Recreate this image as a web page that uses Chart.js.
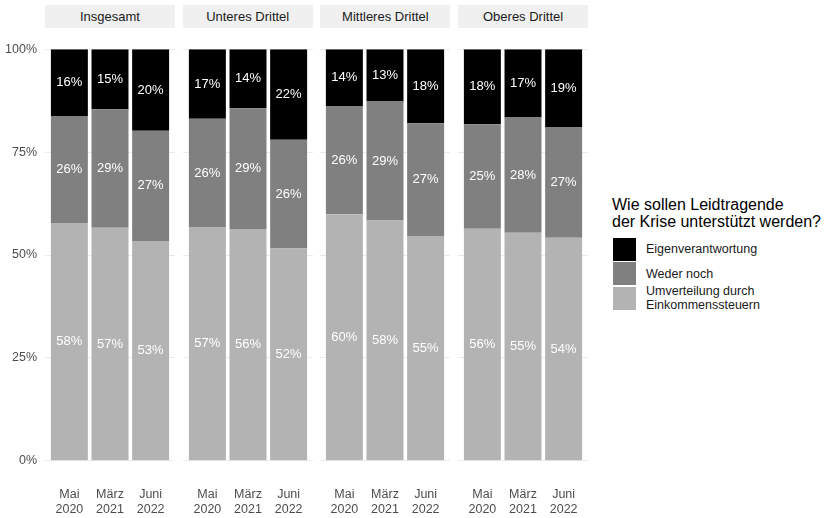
<!DOCTYPE html>
<html>
<head>
<meta charset="utf-8">
<script src="https://cdn.jsdelivr.net/npm/chart.js@4.4.1/dist/chart.umd.min.js"></script>
<style>
  body { margin: 0; width: 827px; height: 518px; background: #fff; position: relative; overflow: hidden;
         font-family: "Liberation Sans", Arial, sans-serif; }
  .strip { position: absolute; top: 5px; height: 23px; width: 130px; background: #f0f0f0; color: #1a1a1a;
           font-size: 13px; line-height: 23px; text-align: center; }
  canvas { position: absolute; top: 36px; }
  .ltitle { position: absolute; left: 612px; top: 196px; font-size: 16px; line-height: 17px; color: #000; }
  .lrow { position: absolute; left: 613px; height: 23px; display: flex; align-items: center; }
  .lkey { width: 23px; height: 23px; }
  .ltext { margin-left: 10px; font-size: 12.5px; line-height: 14px; color: #1a1a1a; }
</style>
</head>
<body>
<script>
const panels = ['Insgesamt', 'Unteres Drittel', 'Mittleres Drittel', 'Oberes Drittel'];
const waves = [['Mai', '2020'], ['März', '2021'], ['Juni', '2022']];
const seriesNames = ['Umverteilung durch Einkommenssteuern', 'Weder noch', 'Eigenverantwortung'];
const legendLines = [['Eigenverantwortung'], ['Weder noch'], ['Umverteilung durch', 'Einkommenssteuern']];
const colors = ['#b3b3b3', '#808080', '#000000'];
const yTicks = [0, 25, 50, 75, 100];

// Anteile in Prozent je Gruppe: Mai 2020, März 2021, Juni 2022
const umverteilung = [[57.8, 56.6, 53.4], [56.8, 56.3, 51.6], [59.9, 58.4, 54.6], [56.4, 55.4, 54.2]];
const wederNoch = [[26.0, 28.8, 26.8], [26.3, 29.4, 26.4], [26.3, 28.9, 27.4], [25.4, 28.0, 26.9]];
const eigenverantwortung = [[16.2, 14.6, 19.8], [16.9, 14.3, 22.0], [13.8, 12.7, 18.0], [18.2, 16.6, 18.9]];
const series = [umverteilung, wederNoch, eigenverantwortung];

const family = '"Liberation Sans", Arial, sans-serif';

const segmentLabels = {
  id: 'segmentLabels',
  afterDatasetsDraw(chart) {
    const ctx = chart.ctx;
    ctx.save();
    ctx.font = '13px ' + family;
    ctx.fillStyle = '#ffffff';
    ctx.textAlign = 'center';
    ctx.textBaseline = 'middle';
    chart.data.datasets.forEach((ds, i) => {
      chart.getDatasetMeta(i).data.forEach((bar, j) => {
        ctx.fillText(Math.round(ds.data[j].y) + '%', bar.x, (bar.y + bar.base) / 2);
      });
    });
    ctx.restore();
  }
};

panels.forEach((name, p) => {
  const left = 45 + p * 137.7;
  const axisW = p === 0 ? 45 : 0;

  const strip = document.createElement('div');
  strip.className = 'strip';
  strip.style.left = left + 'px';
  strip.textContent = name;
  document.body.appendChild(strip);

  const canvas = document.createElement('canvas');
  canvas.width = 130 + axisW;
  canvas.height = 482;
  canvas.style.left = (left - axisW) + 'px';
  document.body.appendChild(canvas);

  new Chart(canvas, {
    type: 'bar',
    data: {
      datasets: seriesNames.map((n, s) => ({
        label: n,
        data: series[s][p].map((v, j) => ({ x: j, y: v })),
        backgroundColor: colors[s],
        borderWidth: 0,
        barPercentage: 0.91,
        categoryPercentage: 1,
      })),
    },
    options: {
      responsive: false,
      animation: false,
      layout: { padding: { top: 13.3, left: 0, right: 0, bottom: 0 } },
      plugins: { legend: { display: false }, tooltip: { enabled: false } },
      scales: {
        x: {
          type: 'linear', stacked: true, min: -0.6, max: 2.6, offset: false,
          grid: { display: false }, border: { display: false },
          afterBuildTicks: s => { s.ticks = waves.map((w, j) => ({ value: j })); },
          afterFit: s => { s.height = 57.3; s.paddingLeft = 0; s.paddingRight = 0; },
          ticks: { callback: v => waves[v], color: '#4d4d4d', font: { size: 12.5, family }, padding: 18.5,
                   maxRotation: 0, autoSkip: false },
        },
        y: {
          stacked: true, min: 0, max: 100,
          afterBuildTicks: s => { s.ticks = yTicks.map(v => ({ value: v })); },
          afterFit: s => { s.width = axisW; s.paddingTop = 0; s.paddingBottom = 0; },
          grid: { color: '#ebebeb', drawTicks: false }, border: { display: false },
          ticks: { display: p === 0, callback: v => v + '%', padding: 8, color: '#4d4d4d',
                   font: { size: 12.5, family } },
        },
      },
    },
    plugins: [segmentLabels],
  });
});

// Legende
const title = document.createElement('div');
title.className = 'ltitle';
title.innerHTML = 'Wie sollen Leidtragende<br>der Krise unterstützt werden?';
document.body.appendChild(title);

legendLines.forEach((lines, i) => {
  const row = document.createElement('div');
  row.className = 'lrow';
  row.style.top = (237.7 + i * 24.6) + 'px';
  const key = document.createElement('div');
  key.className = 'lkey';
  key.style.background = colors[colors.length - 1 - i];
  const text = document.createElement('div');
  text.className = 'ltext';
  text.innerHTML = lines.join('<br>');
  row.appendChild(key);
  row.appendChild(text);
  document.body.appendChild(row);
});
</script>
</body>
</html>
